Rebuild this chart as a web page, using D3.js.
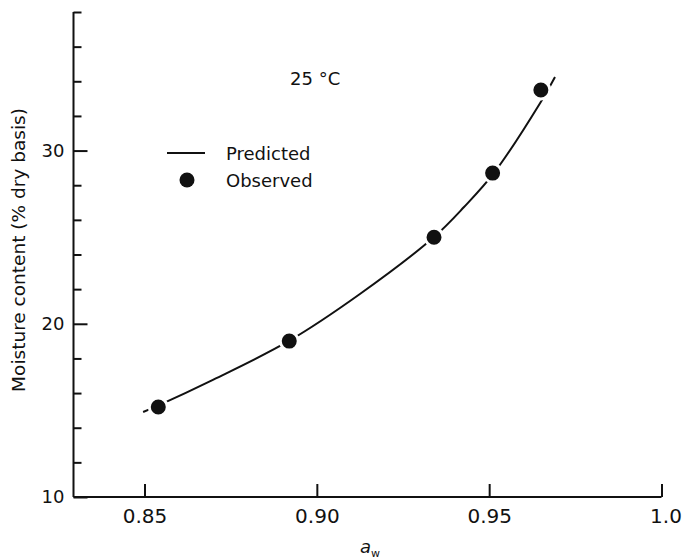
<!DOCTYPE html>
<html><head><meta charset="utf-8">
<script src="https://cdn.jsdelivr.net/npm/d3@7"></script>
<style>
body{margin:0;background:#fff}
svg{display:block}
text{font-family:"DejaVu Sans",sans-serif;fill:#111}
</style>
</head><body>
<svg id="c" width="683" height="560"></svg>
<script>
// ---- data ----
const obsAw = [0.854, 0.892, 0.934, 0.951, 0.965];
const obsMoisture = [15.2, 19.0, 25.0, 28.7, 33.5];
const predAw = [0.8496, 0.8536, 0.870, 0.8919, 0.9125, 0.934, 0.9427, 0.9514, 0.9648, 0.9691];
const predMoisture = [14.91, 15.25, 16.78, 19.01, 21.72, 25.01, 26.74, 28.71, 32.75, 34.25];
const xTickValues = [0.85, 0.90, 0.95, 1.0];
const xTickLabels = ["0.85", "0.90", "0.95", "1.0"];
const yMajorTicks = [10, 20, 30];
const yMinorTicks = [12, 14, 16, 18, 22, 24, 26, 28, 32, 34, 36, 38];
const legendLabels = ["Predicted", "Observed"];
const titleText = "25 °C";
const yTitle = "Moisture content (% dry basis)";

const svg = d3.select("#c");
const x = d3.scaleLinear().domain([0.8294, 1.0]).range([73.5, 661.5]);
const y = d3.scaleLinear().domain([10, 38]).range([497, 12]);
const ink = "#111";

// x axis
const gx = svg.append("g").attr("transform", `translate(0,${y(10)})`)
  .call(d3.axisBottom(x).tickValues(xTickValues)
    .tickFormat((d, i) => xTickLabels[i]).tickSizeInner(-13).tickSizeOuter(0).tickPadding(12));
gx.selectAll("text").attr("font-size", 20).attr("font-family", "DejaVu Sans").attr("fill", ink);
gx.selectAll("text").filter((d, i) => i === 3).attr("dx", 4);

// y axis majors
const gy = svg.append("g").attr("transform", `translate(${x.range()[0]},0)`)
  .call(d3.axisLeft(y).tickValues(yMajorTicks).tickFormat(d3.format("d"))
    .tickSizeInner(-14).tickSizeOuter(0).tickPadding(9));
gy.selectAll("text").attr("font-size", 18).attr("font-family", "DejaVu Sans").attr("fill", ink);
// y axis minors
const gy2 = svg.append("g").attr("transform", `translate(${x.range()[0]},0)`)
  .call(d3.axisLeft(y).tickValues(yMinorTicks).tickFormat("")
    .tickSizeInner(-8).tickSizeOuter(0));
gy2.select(".domain").remove();

svg.selectAll(".domain, .tick line").attr("stroke", ink).attr("stroke-width", 2);
gy.select(".domain").attr("d", `M0,${y(38)}V${y(10)}`);
gx.select(".domain").attr("d", `M${x.range()[0]},0H${x(1.0)}`);

// predicted curve
const predData = predAw.map((a, i) => [a, predMoisture[i]]);
svg.append("path").datum(predData)
  .attr("fill", "none").attr("stroke", ink).attr("stroke-width", 2)
  .attr("d", d3.line().x(d => x(d[0])).y(d => y(d[1])).curve(d3.curveCatmullRom));

// observed points (white halo gap around each dot)
svg.selectAll("circle.obs").data(obsAw.map((a, i) => [a, obsMoisture[i]]))
  .join("circle").attr("class", "obs")
  .attr("cx", d => x(d[0])).attr("cy", d => y(d[1])).attr("r", 9)
  .attr("fill", ink).attr("stroke", "#fff").attr("stroke-width", 3);

// title
svg.append("text").attr("x", 290).attr("y", 85).attr("font-size", 18).text(titleText);

// legend
svg.append("line").attr("x1", 167).attr("x2", 205).attr("y1", 153).attr("y2", 153)
  .attr("stroke", ink).attr("stroke-width", 2);
svg.append("text").attr("x", 226).attr("y", 160).attr("font-size", 18).text(legendLabels[0]);
svg.append("circle").attr("cx", 187).attr("cy", 180).attr("r", 7.5).attr("fill", ink);
svg.append("text").attr("x", 226).attr("y", 187).attr("font-size", 18).text(legendLabels[1]);

// y title
svg.append("text").attr("transform", "translate(25,250) rotate(-90)")
  .attr("text-anchor", "middle").attr("font-size", 18.5).text(yTitle);

// x title
const xt = svg.append("text").attr("x", 360).attr("y", 553).attr("font-size", 18).attr("font-style", "italic");
xt.append("tspan").text("a");
xt.append("tspan").attr("font-size", 11).attr("dy", 4).attr("font-style", "normal").text("w");
</script>
</body></html>
